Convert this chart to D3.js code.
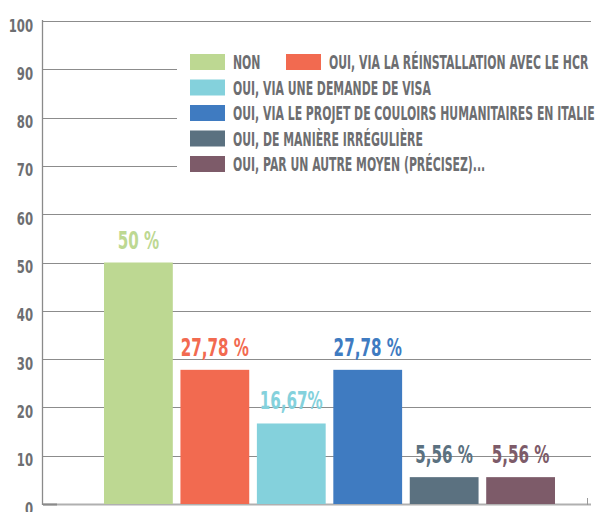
<!DOCTYPE html>
<html><head><meta charset="utf-8">
<script src="https://cdn.jsdelivr.net/npm/d3@7/dist/d3.min.js"></script>
<style>html,body{margin:0;padding:0;background:#fff;}svg{display:block;}</style>
</head><body>
<svg id="chart" width="597" height="512"></svg>
<script>
const categories = [
  "NON",
  "OUI, VIA LA RÉINSTALLATION AVEC LE HCR",
  "OUI, VIA UNE DEMANDE DE VISA",
  "OUI, VIA LE PROJET DE COULOIRS HUMANITAIRES EN ITALIE",
  "OUI, DE MANIÈRE IRRÉGULIÈRE",
  "OUI, PAR UN AUTRE MOYEN (PRÉCISEZ)..."
];
const values = [50, 27.78, 16.67, 27.78, 5.56, 5.56];
const valueLabels = ["50 %", "27,78 %", "16,67%", "27,78 %", "5,56 %", "5,56 %"];
const colors = ["#bdd892", "#f26a50", "#84d1dc", "#3f7bc1", "#5b7180", "#7d5b69"];
const yTicks = [0, 10, 20, 30, 40, 50, 60, 70, 80, 90, 100];

const FONT = "'Liberation Sans Narrow','DejaVu Sans Condensed','Roboto Condensed',sans-serif";
const svg = d3.select("#chart");

const y = d3.scaleLinear().domain([0, 100]).range([504, 21]);
const x = d3.scaleBand().domain(categories).range([104, 555]).paddingInner(0.1).paddingOuter(0);

// horizontally condense text (mimics a narrow display face)
function condense(sel, k) {
  sel.each(function() {
    const w = this.getComputedTextLength();
    d3.select(this).attr("textLength", w * k).attr("lengthAdjust", "spacingAndGlyphs");
  });
}

// gridlines
svg.append("g").selectAll("line").data(yTicks.filter(t => t > 0)).join("line")
  .attr("x1", 43).attr("x2", 591)
  .attr("y1", d => Math.round(y(d)) + 0.5).attr("y2", d => Math.round(y(d)) + 0.5)
  .attr("stroke", "#8c8c8c").attr("stroke-width", 1.2);

// legend background covering grid
svg.append("rect").attr("x", 177).attr("y", 45).attr("width", 420).attr("height", 135).attr("fill", "#fff");

// left axis line
svg.append("line").attr("x1", 42.5).attr("x2", 42.5).attr("y1", 20).attr("y2", 505)
  .attr("stroke", "#8a8a8a").attr("stroke-width", 1.3);

// baseline
svg.append("line").attr("x1", 43).attr("x2", 591).attr("y1", 504.5).attr("y2", 504.5)
  .attr("stroke", "#b0b0b0").attr("stroke-width", 2);
svg.append("line").attr("x1", 43).attr("x2", 57).attr("y1", 504.5).attr("y2", 504.5)
  .attr("stroke", "#8a8a8a").attr("stroke-width", 2);
svg.append("line").attr("x1", 587.5).attr("x2", 587.5).attr("y1", 498).attr("y2", 505)
  .attr("stroke", "#9a9a9a").attr("stroke-width", 1);

// y tick labels
svg.append("g").selectAll("text").data(yTicks).join("text")
  .attr("x", 33).attr("y", d => y(d) + 10.5)
  .attr("text-anchor", "end")
  .attr("font-family", FONT).attr("font-weight", "bold").attr("font-size", 18.5)
  .attr("fill", "#6d6e71")
  .text(d => d)
  .call(condense, 0.7);

// bars
svg.append("g").selectAll("rect").data(values).join("rect")
  .attr("x", (d, i) => x(categories[i]))
  .attr("width", x.bandwidth())
  .attr("y", d => y(d))
  .attr("height", d => y(0) - y(d))
  .attr("fill", (d, i) => colors[i]);

// value labels
svg.append("g").selectAll("text").data(values).join("text")
  .attr("x", (d, i) => x(categories[i]) + x.bandwidth() / 2)
  .attr("y", d => y(d) - 14)
  .attr("text-anchor", "middle")
  .attr("font-family", FONT).attr("font-weight", "bold").attr("font-size", 24)
  .attr("fill", (d, i) => colors[i])
  .text((d, i) => valueLabels[i])
  .call(condense, 0.7);

// legend
const legendPos = categories.map((c, i) => i === 0 ? [190, 0] : i === 1 ? [286, 0] : [190, i - 1]);
const lg = svg.append("g").selectAll("g").data(categories).join("g")
  .attr("transform", (d, i) => `translate(${legendPos[i][0]},${54 + legendPos[i][1] * 25.5})`);
lg.append("rect").attr("width", 35).attr("height", 16).attr("fill", (d, i) => colors[i]);
lg.append("text").attr("x", 43).attr("y", 15.3)
  .attr("font-family", FONT).attr("font-weight", "bold").attr("font-size", 19.5)
  .attr("fill", "#6d6e71")
  .text(d => d)
  .call(condense, 0.62);
</script>
</body></html>
